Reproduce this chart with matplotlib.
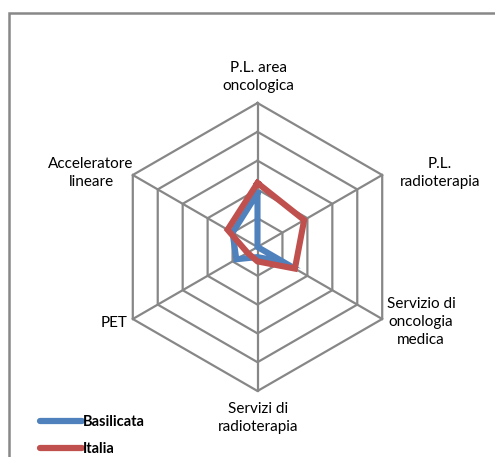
import numpy as np
import matplotlib
matplotlib.use("Agg")
import matplotlib.pyplot as plt
from matplotlib.patches import Rectangle
from matplotlib.lines import Line2D

plt.rcParams['font.family'] = ['Lato', 'DejaVu Sans']

categories = ['P.L. area\noncologica', 'P.L.\nradioterapia', 'Servizio di\noncologia\nmedica',
              'Servizi di\nradioterapia', 'PET', 'Acceleratore\nlineare']
series_names = ['Basilicata', 'Italia']
basilicata = [1.87, 0.0, 1.05, 0.35, 0.85, 1.0]
italia = [2.22, 1.87, 1.5, 0.5, 0.4, 1.2]
ring_levels = [1, 2, 3, 4, 5]

W, H = 495, 457
fig = plt.figure(figsize=(W / 100, H / 100), dpi=100)

def fx(px):
    return px / W

def fy(py):
    return 1 - py / H

cx, cy, R = 257.5, 247.0, 144.0
ax = fig.add_axes([fx(cx - R), fy(cy + R), 2 * R / W, 2 * R / H], projection='polar')
ax.set_theta_offset(np.pi / 2)
ax.set_theta_direction(-1)
ax.set_ylim(0, ring_levels[-1])
ax.grid(False)
ax.set_xticks([])
ax.set_yticks([])
ax.spines['polar'].set_visible(False)
ax.patch.set_alpha(0)

n = len(categories)
angles = np.linspace(0, 2 * np.pi, n, endpoint=False)
closed = np.concatenate([angles, angles[:1]])

grid_color = '#878787'
for lvl in ring_levels:
    ax.plot(closed, [lvl] * (n + 1), color=grid_color, lw=1.6, clip_on=False, zorder=1)
for a in angles:
    ax.plot([a, a], [0, ring_levels[-1]], color=grid_color, lw=1.6, clip_on=False, zorder=1)

colors = ['#4F81BD', '#C0504D']
handles = []
for name, vals, c in zip(series_names, [basilicata, italia], colors):
    v = np.concatenate([vals, vals[:1]])
    ax.plot(closed, v, color=c, lw=4.4, solid_joinstyle='miter', clip_on=False, zorder=3)
    handles.append(Line2D([0], [0], color=c, lw=4.5, solid_capstyle='round'))

# axis labels (positions in pixels)
label_pos = [
    (258, 77, 'center'),
    (440, 173, 'center'),
    (421, 322, 'center'),
    (258, 418, 'center'),
    (127, 323, 'right'),
    (91, 173, 'center'),
]
for lab, (px, py, ha) in zip(categories, label_pos):
    fig.text(fx(px), fy(py), lab, ha=ha, va='center', fontsize=11,
             color='#000000', linespacing=1.38, multialignment='center')

# outer frame
fig.patches.append(Rectangle((fx(9), -0.2), 1.5, fy(13) + 0.2, transform=fig.transFigure,
                             fill=False, edgecolor='#888888', lw=1.8))

fig.legend(handles, series_names, loc='upper left',
           bbox_to_anchor=(fx(34), fy(409)), frameon=False,
           prop={'weight': 'bold', 'size': 10.5}, handlelength=2.9,
           handletextpad=0.05, labelspacing=0.9, borderaxespad=0)

fig.savefig('out.png', dpi=100)
